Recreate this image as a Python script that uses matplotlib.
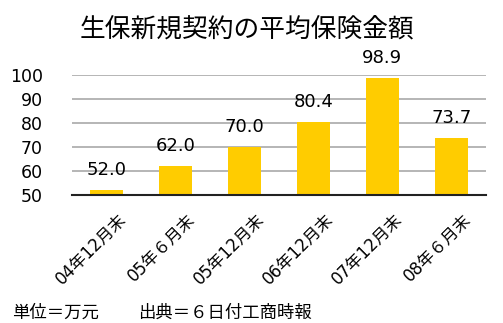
import matplotlib
matplotlib.use("Agg")
import matplotlib.pyplot as plt
import matplotlib.transforms as mtransforms

plt.rcParams['font.family'] = ['Noto Sans CJK JP', 'DejaVu Sans']

categories = ["04年12月末", "05年６月末", "05年12月末", "06年12月末", "07年12月末", "08年６月末"]
values = [52.0, 62.0, 70.0, 80.4, 98.9, 73.7]
yticks = [50, 60, 70, 80, 90, 100]
title = "生保新規契約の平均保険金額"
footer_unit = "単位＝万元"
footer_src = "出典＝６日付工商時報"

fig = plt.figure(figsize=(5.03, 3.23), dpi=100)
ax = fig.add_axes([0.143, 0.396, 0.823, 0.372])
x = list(range(len(categories)))
ax.bar(x, values, width=0.48, color="#FFCC00", zorder=3)
ax.set_ylim(50, 100)
ax.set_xlim(-0.5, len(categories) - 0.5)
ax.set_yticks(yticks)
ax.set_yticklabels([str(t) for t in yticks], fontsize=12.5, family="DejaVu Sans")
ax.yaxis.grid(True, color="#b0b0b0", linewidth=1.3, zorder=0)
for s in ["left", "right", "top"]:
    ax.spines[s].set_visible(False)
ax.spines["bottom"].set_color("#222222")
ax.spines["bottom"].set_linewidth(1.5)
ax.spines["bottom"].set_zorder(4)
ax.tick_params(axis="both", length=0)
ax.tick_params(axis="y", pad=21)
ax.set_xticks(x)
ax.set_xticklabels(categories, rotation=45, ha="right", va="top", rotation_mode="anchor",
                   fontsize=12, family=["DejaVu Sans", "Noto Sans CJK JP"])
ax.tick_params(axis="x", pad=11)
offset = mtransforms.ScaledTranslation(11 / 100, 0, fig.dpi_scale_trans)
for lbl in ax.get_xticklabels():
    lbl.set_transform(lbl.get_transform() + offset)

for xi, v in zip(x, values):
    ax.annotate(f"{v:.1f}", (xi, v), xytext=(0, 14.4), textcoords="offset points",
                ha="center", va="center", fontsize=13, family="DejaVu Sans", clip_on=False)

fig.text(0.491, 0.907, title, ha="center", va="center", fontsize=18.5)
fig.text(0.024, 0.032, footer_unit, ha="left", va="center", fontsize=12.5)
fig.text(0.274, 0.032, footer_src, ha="left", va="center", fontsize=12.5)

fig.savefig("out.png", dpi=100)
